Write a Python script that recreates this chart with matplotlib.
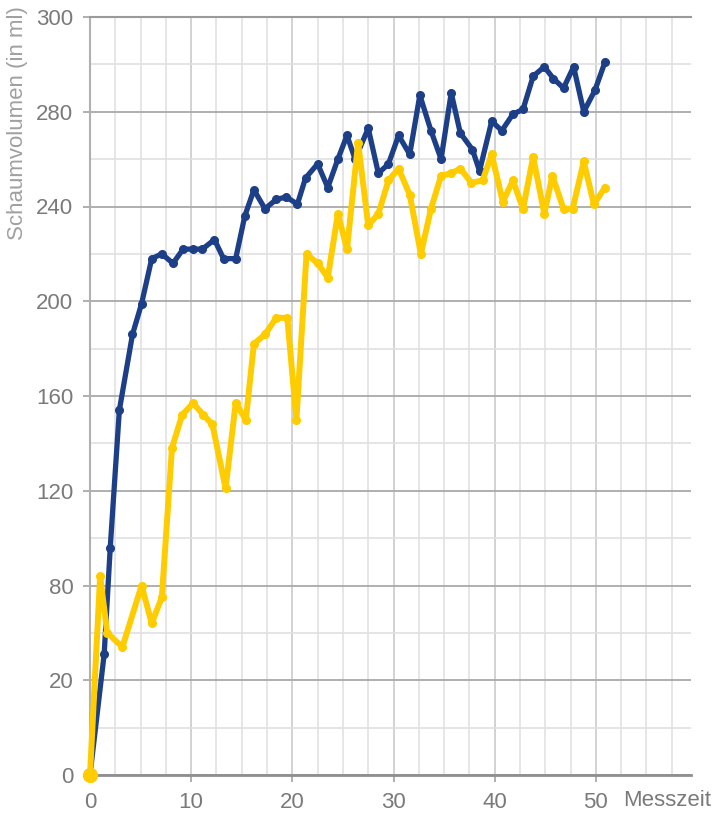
import matplotlib.pyplot as plt
from matplotlib.ticker import MultipleLocator

plt.rcParams['font.family'] = ['Liberation Sans', 'DejaVu Sans']

zeit_blau = [0, 1.4, 2.0, 2.9, 4.2, 5.1, 6.1, 7.1, 8.2, 9.2, 10.2, 11.1, 12.3, 13.2, 14.4,
             15.3, 16.2, 17.3, 18.4, 19.4, 20.5, 21.3, 22.5, 23.5, 24.5, 25.4, 26.2, 27.5,
             28.5, 29.5, 30.5, 31.6, 32.6, 33.7, 34.7, 35.7, 36.6, 37.8, 38.5, 39.7, 40.7,
             41.8, 42.8, 43.8, 44.9, 45.8, 46.8, 47.8, 48.8, 49.9, 50.9]
schaum_blau = [0, 51, 96, 154, 186, 199, 218, 220, 216, 222, 222, 222, 226, 218, 218,
               236, 247, 239, 243, 244, 241, 252, 258, 248, 260, 270, 260, 273,
               254, 258, 270, 262, 287, 272, 260, 288, 271, 264, 255, 276, 272,
               279, 281, 295, 299, 294, 290, 299, 280, 289, 301]

zeit_gelb = [0, 1.0, 1.7, 3.2, 5.1, 6.1, 7.1, 8.1, 9.1, 10.2, 11.2, 12.1, 13.4, 14.4,
             15.4, 16.2, 17.3, 18.4, 19.5, 20.4, 21.4, 22.5, 23.5, 24.5, 25.4, 26.5, 27.5,
             28.5, 29.5, 30.5, 31.6, 32.7, 33.7, 34.7, 35.7, 36.6, 37.7, 38.8, 39.7, 40.8,
             41.8, 42.8, 43.8, 44.9, 45.7, 46.8, 47.7, 48.8, 49.8, 50.9]
schaum_gelb = [0, 84, 60, 54, 80, 64, 75, 138, 152, 157, 152, 148, 121, 157,
               150, 182, 186, 193, 193, 150, 220, 216, 210, 237, 222, 267, 232,
               237, 251, 256, 245, 220, 239, 253, 254, 256, 250, 251, 262, 242,
               251, 239, 261, 237, 253, 239, 239, 259, 241, 248]

y_ticks = [0, 40, 80, 120, 160, 200, 240, 280, 320]
y_labels = ["0", "20", "80", "120", "160", "200", "240", "280", "300"]
x_ticks = [0, 10, 20, 30, 40, 50]

fig = plt.figure(figsize=(7.15, 8.15), dpi=100)
ax = fig.add_axes([90 / 715, 40 / 815, 601 / 715, 758 / 815])

ax.plot(zeit_blau, schaum_blau, color='#1d3f87', lw=3.8, marker='o', ms=5.5,
        solid_joinstyle='round', zorder=3, clip_on=False)
ax.plot(zeit_gelb, schaum_gelb, color='#ffcc00', lw=4.3, marker='o', ms=5.5,
        solid_joinstyle='round', zorder=4, clip_on=False)
ax.plot(zeit_gelb[:1], schaum_gelb[:1], 'o', color='#ffcc00', ms=10, zorder=5, clip_on=False)

ax.set_xlim(0, 59.4)
ax.set_ylim(0, 320)

# Gitter
ax.set_xticks(x_ticks)
ax.xaxis.set_minor_locator(MultipleLocator(2.5))
ax.set_yticks(y_ticks)
ax.set_yticklabels(y_labels)
ax.yaxis.set_minor_locator(MultipleLocator(20))
ax.grid(True, which='major', axis='x', color='#cfcfcf', lw=1.3)
ax.grid(True, which='minor', axis='x', color='#e2e2e2', lw=1.2)
ax.grid(True, which='major', axis='y', color='#a9a9a9', lw=1.3)
ax.grid(True, which='minor', axis='y', color='#e0e0e0', lw=1.2)
ax.set_axisbelow(True)

ax.spines['right'].set_visible(False)
ax.spines['top'].set_color('#9a9a9a')
ax.spines['top'].set_linewidth(1.5)
ax.spines['left'].set_color('#b0b0b0')
ax.spines['left'].set_linewidth(1.5)
ax.spines['bottom'].set_color('#8f8f8f')
ax.spines['bottom'].set_linewidth(2)

ax.tick_params(which='major', length=5, width=1.3, color='#a9a9a9', pad=7,
               labelsize=16, labelcolor='#7a7a7a')
ax.tick_params(which='minor', length=0)

fig.text(0.025, 0.992, 'Schaumvolumen (in ml)', rotation=90, ha='center', va='top',
         fontsize=16, color='#a0a0a0')
fig.text(623 / 715, 0.0184, 'Messzeit', ha='left', va='center', fontsize=16, color='#7a7a7a')

fig.savefig('out.png', dpi=100)
